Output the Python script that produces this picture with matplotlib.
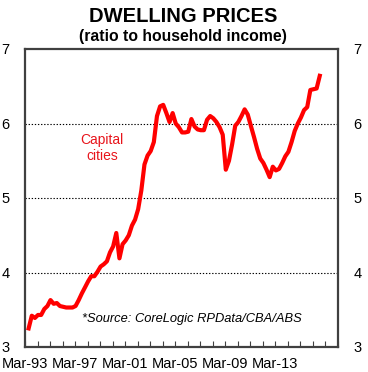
import numpy as np
import pandas as pd
import matplotlib
matplotlib.use("Agg")
import matplotlib.pyplot as plt

plt.rcParams['font.family'] = ['Liberation Sans', 'DejaVu Sans']

# quarterly ratio of dwelling prices to household income, Jun-93 to Sep-16
ratio = [3.25, 3.42, 3.39,
         3.43, 3.43, 3.51, 3.55,
         3.63, 3.58, 3.59, 3.55,
         3.54, 3.53, 3.53, 3.53,
         3.55, 3.63, 3.72, 3.80,
         3.88, 3.95, 3.95, 4.01,
         4.08, 4.11, 4.15, 4.27,
         4.35, 4.53, 4.19, 4.38,
         4.43, 4.50, 4.63, 4.71,
         4.85, 5.10, 5.45, 5.57,
         5.63, 5.75, 6.10, 6.23,
         6.25, 6.14, 6.02, 6.14,
         6.00, 5.95, 5.88, 5.88,
         5.89, 6.06, 5.96, 5.92,
         5.91, 5.91, 6.05, 6.10,
         6.07, 6.02, 5.95, 5.85,
         5.38, 5.50, 5.72, 5.97,
         6.02, 6.10, 6.19, 6.12,
         5.97, 5.82, 5.66, 5.53,
         5.47, 5.38, 5.28, 5.42,
         5.37, 5.39, 5.47, 5.56,
         5.62, 5.75, 5.90, 6.00,
         6.08, 6.18, 6.22, 6.45,
         6.46, 6.47, 6.64]
dates = pd.date_range("1993-06-01", periods=len(ratio), freq="QS-MAR") + pd.Timedelta(days=14)

tick_years = list(range(1993, 2019))
label_years = [1993, 1997, 2001, 2005, 2009, 2013]
y_ticks = [3, 4, 5, 6, 7]

fig = plt.figure(figsize=(3.68, 3.72), dpi=100)
ax = fig.add_axes([25/368, 1 - 347/372, 313/368, 298/372])

ax.plot(dates, ratio, color="#ff0000", lw=3.0, solid_joinstyle="round", zorder=3)

ax.set_ylim(3, 7)
ax.set_xlim(pd.Timestamp("1993-03-01"), pd.Timestamp("2018-03-01"))

for v in [4, 5, 6]:
    ax.axhline(v, color="black", lw=0.8, ls=(0, (1.2, 1.6)), zorder=1)

ax.set_yticks(y_ticks)
ax.set_yticklabels([str(v) for v in y_ticks])
ax.tick_params(axis="y", length=0, pad=11, labelsize=10.5, labelright=True)

xt = [pd.Timestamp(f"{y}-03-01") for y in tick_years]
ax.set_xticks(xt)
ax.set_xticklabels([f"Mar-{str(y)[2:]}" if y in label_years else "" for y in tick_years])
ax.tick_params(axis="x", direction="in", length=4, width=0.8, color="#404040",
               pad=7, labelsize=10.5)

for s in ax.spines.values():
    s.set_color("#404040")
    s.set_linewidth(1.6)

ax.text(0.246, 0.668, "Capital\ncities", color="#e8141b", transform=ax.transAxes,
        fontsize=10, ha="center", va="center", linespacing=1.2)
ax.text(0.534, 0.094, "*Source: CoreLogic RPData/CBA/ABS", transform=ax.transAxes,
        fontsize=9.3, style="italic", ha="center", va="center")

fig.text(0.497, 1 - 17/372, "DWELLING PRICES", fontsize=14.5, fontweight="bold",
         ha="center", va="center")
fig.text(0.497, 1 - 37/372, "(ratio to household income)", fontsize=11.3,
         fontweight="bold", ha="center", va="center")

fig.savefig("out.png", dpi=100)
